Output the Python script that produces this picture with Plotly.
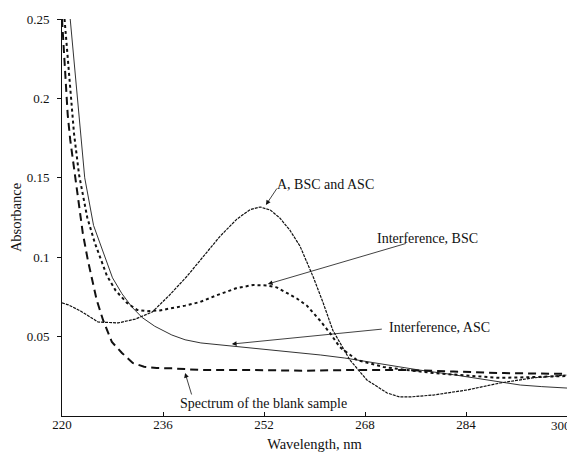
import plotly.graph_objects as go

# Interference, ASC (thin solid)
asc_x = [221.3, 222.4, 223.6, 225.0, 226.8, 228.0, 229.5, 231.1, 232.7, 234.7, 237.4, 239.5, 242.0,
         247.0, 252.0, 258.0, 261.0, 264.8, 270.0, 276.5, 282.0, 288.0, 292.6, 296.0, 300.0]
asc_y = [0.25, 0.20, 0.15, 0.12, 0.10, 0.087, 0.077, 0.0685, 0.062, 0.0565, 0.051, 0.048, 0.046,
         0.0440, 0.042, 0.0397, 0.0384, 0.0365, 0.033, 0.029, 0.026, 0.0225, 0.0195, 0.0185, 0.0176]

# Interference, BSC (dotted)
bsc_x = [220.4, 221.2, 221.9, 222.7, 224.0, 225.2, 226.2, 227.1, 228.5, 230.3, 231.9, 233.5, 235.5,
         237.6, 239.5, 241.9, 244.5, 247.7, 250.3, 252.5, 254.0, 255.6, 257.2, 258.8, 260.9, 262.5,
         264.0, 266.7, 270.9, 274.5, 278.8, 284.0, 289.4, 294.5, 300.0]
bsc_y = [0.25, 0.21, 0.178, 0.152, 0.125, 0.109, 0.098, 0.0885, 0.079, 0.0712, 0.0668, 0.0660, 0.0665,
         0.0680, 0.0695, 0.0718, 0.076, 0.0806, 0.0825, 0.0822, 0.081, 0.0775, 0.074, 0.0695, 0.060,
         0.052, 0.0434, 0.0353, 0.0309, 0.029, 0.0271, 0.0255, 0.024, 0.0245, 0.0252]

# A, BSC and ASC (fine dashed)
abc_x = [220.0, 221.0, 223.0, 225.7, 228.9, 231.6, 234.3, 237.0, 239.8, 242.3, 245.0, 247.7, 249.8,
         251.4, 253.0, 254.5, 256.1, 257.7, 259.8, 261.3, 262.9, 265.6, 268.3, 271.5, 273.5, 275.1,
         278.8, 284.2, 289.4, 294.6, 300.0]
abc_y = [0.0712, 0.070, 0.066, 0.0592, 0.0586, 0.061, 0.0655, 0.076, 0.088, 0.100, 0.113, 0.124, 0.130,
         0.1316, 0.1297, 0.1247, 0.117, 0.107, 0.0875, 0.072, 0.054, 0.0353, 0.0227, 0.0145, 0.012, 0.012,
         0.0132, 0.0164, 0.0208, 0.024, 0.0258]

# Spectrum of the blank sample (bold dashed)
blank_x = [220.0, 220.4, 220.9, 221.3, 222.0, 222.7, 223.3, 224.1, 224.8, 225.5, 226.5, 227.9, 229.5,
           231.2, 233.0, 235.0, 237.4, 241.9, 250.0, 258.0, 266.0, 274.0, 282.0, 290.0, 300.0]
blank_y = [0.25, 0.22, 0.19, 0.174, 0.153, 0.133, 0.115, 0.098, 0.085, 0.073, 0.0605, 0.0466, 0.0397,
           0.0334, 0.031, 0.0302, 0.030, 0.029, 0.029, 0.0285, 0.029, 0.029, 0.028, 0.027, 0.0265]

x_ticks = [220, 236, 252, 268, 284, 300]
x_tick_text = ["220", "236", "252", "268", "284", ""]
last_x_tick_text = "300"
y_ticks = [0.05, 0.1, 0.15, 0.2, 0.25]
y_tick_text = ["0.05", "0.1", "0.15", "0.2", "0.25"]

FONT = "Liberation Serif"

fig = go.Figure()
fig.add_trace(go.Scatter(x=asc_x, y=asc_y, mode="lines", line=dict(color="#333", width=1)))
fig.add_trace(go.Scatter(x=bsc_x, y=bsc_y, mode="lines", line=dict(color="#111", width=2, dash="dot")))
fig.add_trace(go.Scatter(x=abc_x, y=abc_y, mode="lines", line=dict(color="#111", width=1.2, dash="3px,1px")))
fig.add_trace(go.Scatter(x=blank_x, y=blank_y, mode="lines", line=dict(color="#111", width=2, dash="8px,5px")))

# arrows (head at x,y ; tail at ax,ay)
arrows = [
    (252.3, 0.1329, 254.2, 0.1442),
    (252.6, 0.0831, 274.7, 0.1089),
    (246.9, 0.0453, 270.9, 0.0548),
    (239.5, 0.0271, 240.6, 0.0126),
]
for hx, hy, tx, ty in arrows:
    fig.add_annotation(x=hx, y=hy, ax=tx, ay=ty, xref="x", yref="y", axref="x", ayref="y",
                       text="", showarrow=True, arrowhead=2, arrowsize=1.2, arrowwidth=0.8,
                       arrowcolor="#111")

labels = [
    ("A, BSC and ASC", 253.7, 0.1455),
    ("Interference, BSC", 269.6, 0.112),
    ("Interference, ASC", 271.5, 0.056),
    ("Spectrum of the blank sample", 238.4, 0.0076),
]
for t, lx, ly in labels:
    fig.add_annotation(x=lx, y=ly, xref="x", yref="y", text=t, showarrow=False,
                       xanchor="left", yanchor="middle",
                       font=dict(family=FONT, size=14, color="#111"))

# last x tick label, nudged left so it stays inside the window
fig.add_annotation(x=x_ticks[-1], y=0, xref="x", yref="paper", text=last_x_tick_text, showarrow=False,
                   xanchor="center", yanchor="top", xshift=-6, yshift=0,
                   font=dict(family=FONT, size=13, color="#111"))

# the page body adds an 8px offset, so the figure is sized/margined to compensate
fig.update_layout(
    width=575, height=450,
    margin=dict(l=54, r=16, t=11, b=42),
    paper_bgcolor="white", plot_bgcolor="white",
    showlegend=False,
    font=dict(family=FONT, size=13, color="#111"),
)
fig.update_xaxes(range=[220, 300], tickvals=x_ticks, ticktext=x_tick_text, showgrid=False, zeroline=False,
                 automargin=False,
                 showline=True, linecolor="#111", linewidth=1, ticks="inside", ticklen=4,
                 tickcolor="#111", tickfont=dict(family=FONT, size=13),
                 ticklabeloverflow="allow", ticklabelstandoff=-4,
                 title=dict(text="Wavelength, nm", font=dict(family=FONT, size=14.5), standoff=8))
fig.update_yaxes(range=[0, 0.25], tickvals=y_ticks, ticktext=y_tick_text, showgrid=False, zeroline=False,
                 automargin=False, ticklabelstandoff=5,
                 showline=True, linecolor="#111", linewidth=1, ticks="outside", ticklen=4,
                 tickcolor="#111", tickfont=dict(family=FONT, size=13),
                 title=dict(text="Absorbance", font=dict(family=FONT, size=14.5), standoff=6))

fig.write_html("out.html")
